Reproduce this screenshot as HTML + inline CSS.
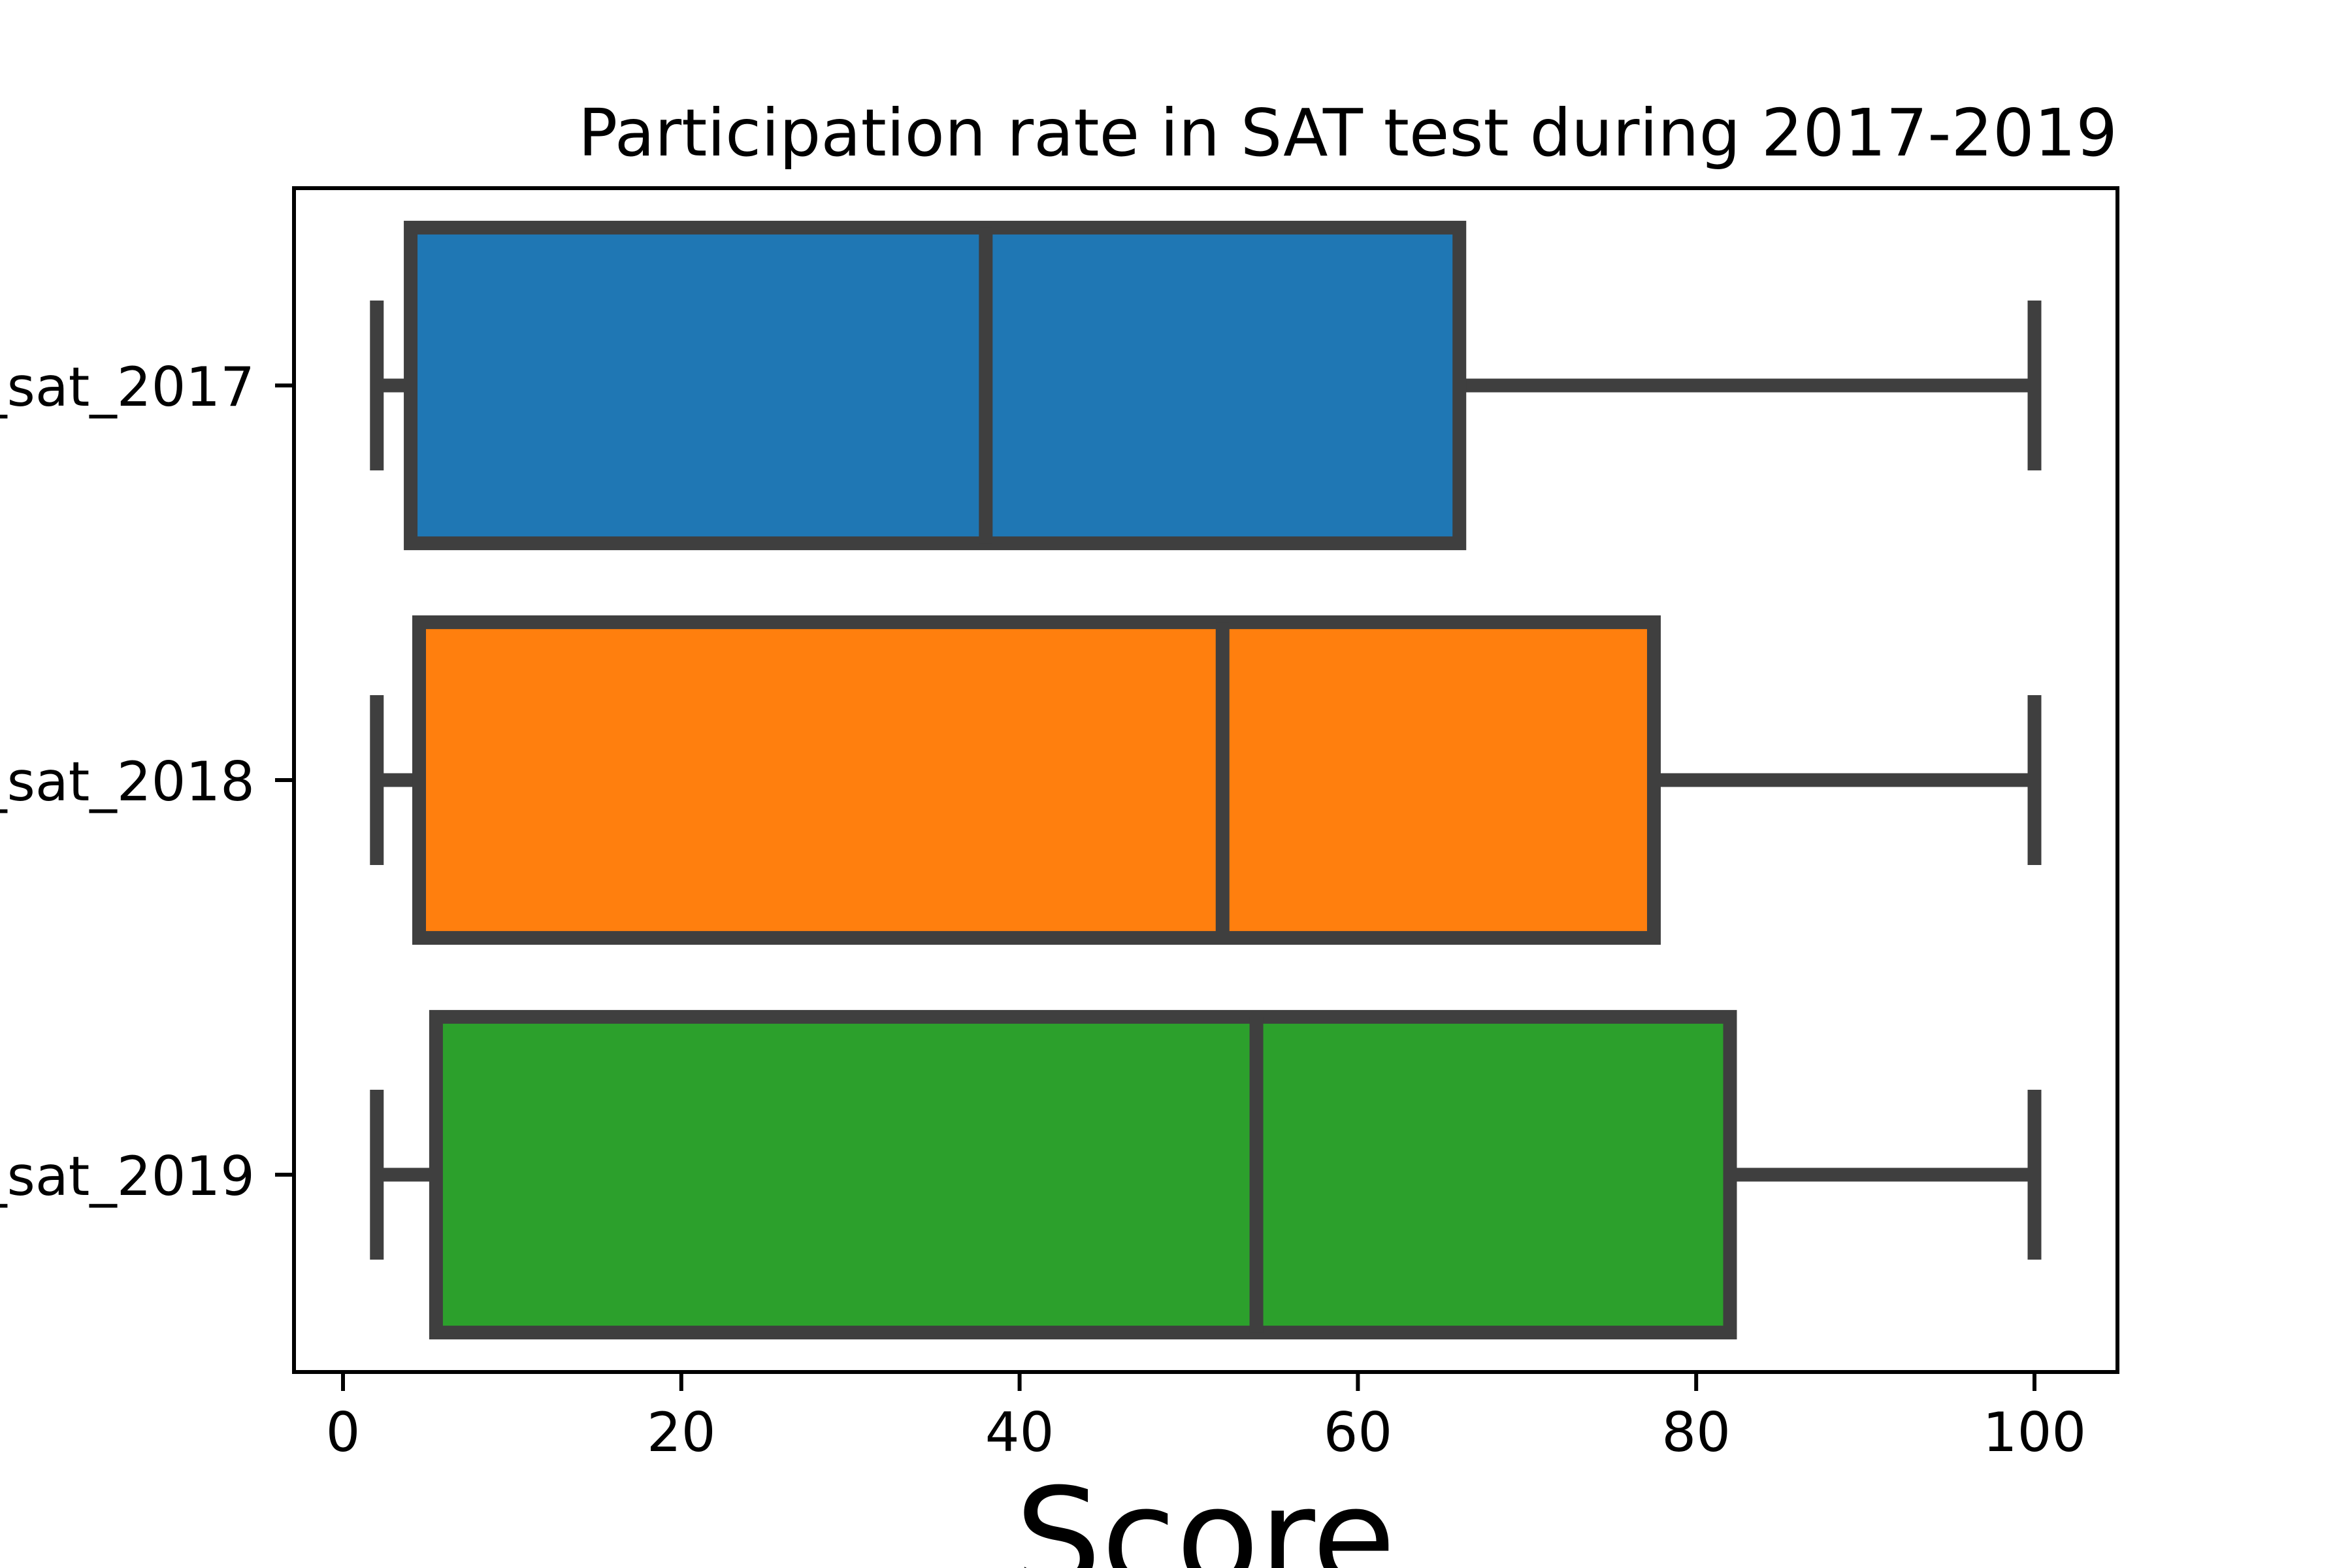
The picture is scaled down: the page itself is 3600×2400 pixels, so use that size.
<!DOCTYPE html>
<html><head><meta charset="utf-8"><style>
html,body{margin:0;padding:0;background:#fff;}
svg{display:block;font-family:"DejaVu Sans","Liberation Sans",sans-serif;}
</style></head><body>
<svg id="chart" width="3600" height="2400" viewBox="0 0 3600 2400" xmlns="http://www.w3.org/2000/svg">
<rect x="0" y="0" width="3600" height="2400" fill="#fff"/>
<g id="plot"></g>
<text x="3241" y="238" font-size="100" text-anchor="end" fill="#000">Participation rate in SAT test during 2017-2019</text>
<text x="1845" y="2426" font-size="208" text-anchor="middle" fill="#000">Score</text>
</svg>
<script>
const categories = ["participation_sat_2017","participation_sat_2018","participation_sat_2019"];
const whiskerLow = [2, 2, 2];
const q1Values = [4, 4.5, 5.5];
const medianValues = [38, 52, 54];
const q3Values = [66, 77.5, 82];
const whiskerHigh = [100, 100, 100];
const xTickLabels = [0, 20, 40, 60, 80, 100];
const fillColors = ["#1f77b4", "#ff7f0e", "#2ca02c"];

const L = 450, R = 3241, T = 288, B = 2100;
const x = v => 525 + (v - 0) * (3114 - 525) / 100;
const band = (B - T) / categories.length;
const yc = i => T + band * (i + 0.5);
const boxH = band * 0.8;
const capHalf = 130;
const NS = "http://www.w3.org/2000/svg";
const g = document.getElementById('plot');
function mk(tag, attrs) {
  const e = document.createElementNS(NS, tag);
  for (const k in attrs) e.setAttribute(k, attrs[k]);
  g.appendChild(e);
  return e;
}
const lc = "#3f3f3f", lw = 21;
categories.forEach((c, i) => {
  const cy = yc(i);
  let e;
  e = mk('line', {x1: x(whiskerLow[i]), x2: x(q1Values[i]), y1: cy, y2: cy, stroke: lc, 'stroke-width': lw});
  
  
  e = mk('line', {x1: x(q3Values[i]), x2: x(whiskerHigh[i]), y1: cy, y2: cy, stroke: lc, 'stroke-width': lw});
  
  
  e = mk('line', {x1: x(whiskerLow[i]), x2: x(whiskerLow[i]), y1: cy - capHalf, y2: cy + capHalf, stroke: lc, 'stroke-width': lw});
  
  
  e = mk('line', {x1: x(whiskerHigh[i]), x2: x(whiskerHigh[i]), y1: cy - capHalf, y2: cy + capHalf, stroke: lc, 'stroke-width': lw});
  
  
  e = mk('rect', {x: x(q1Values[i]), y: cy - boxH / 2, width: x(q3Values[i]) - x(q1Values[i]), height: boxH, fill: fillColors[i], stroke: lc, 'stroke-width': lw});
  
  
  e = mk('line', {x1: x(medianValues[i]), x2: x(medianValues[i]), y1: cy - boxH / 2, y2: cy + boxH / 2, stroke: lc, 'stroke-width': lw});
  
  
  e = mk('line', {x1: L - 29, x2: L, y1: cy, y2: cy, stroke: '#000', 'stroke-width': 6});
  
  
  e = mk('text', {x: 390, y: cy + 31, 'font-size': 83, 'text-anchor': 'end', fill: '#000'});
  e.textContent = c;
  
  
});
xTickLabels.forEach((v, j) => {
  let e = mk('line', {x1: x(v), x2: x(v), y1: B, y2: B + 29, stroke: '#000', 'stroke-width': 6});
  
  
  e = mk('text', {x: x(v), y: 2221, 'font-size': 83, 'text-anchor': 'middle', fill: '#000'});
  e.textContent = String(v);
  
  
});
const frame = mk('rect', {x: L, y: T, width: R - L, height: B - T, fill: 'none', stroke: '#000', 'stroke-width': 6});


</script>
</body></html>
